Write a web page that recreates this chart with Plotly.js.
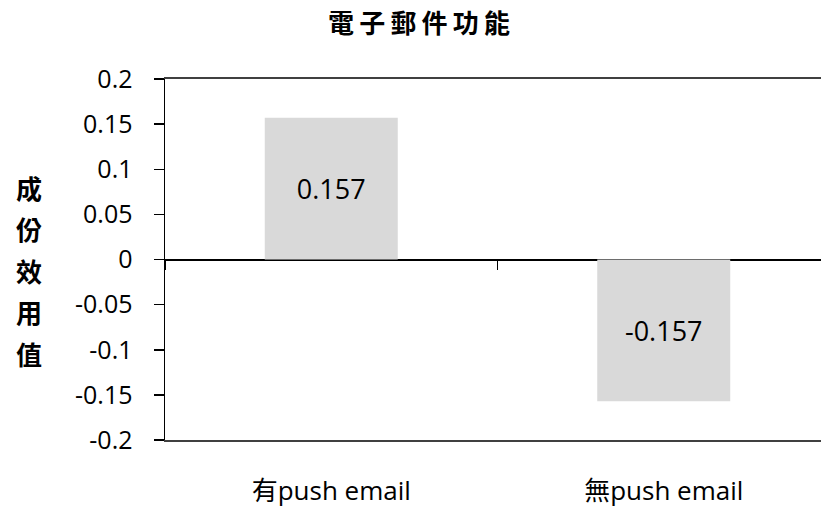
<!DOCTYPE html>
<html>
<head>
<meta charset="utf-8">
<script src="https://cdn.plot.ly/plotly-3.0.1.min.js"></script>
<style>
  html, body { margin: 0; padding: 0; overflow: hidden; background: #fff; }
  #chart { width: 835px; height: 513px; }
</style>
</head>
<body>
<div id="chart"></div>
<script>
// Part-worth utilities for the e-mail feature
const categories = ['有push email', '無push email'];
const utilities = [0.157, -0.157];
const yTickValues = [0.2, 0.15, 0.1, 0.05, 0, -0.05, -0.1, -0.15, -0.2];
const yTickLabels = ['0.2', '0.15', '0.1', '0.05', '0', '-0.05', '-0.1', '-0.15', '-0.2'];
const chartTitle = '電子郵件功能';
const yTitleChars = ['成', '份', '效', '用', '值'];

const latin = '"Open Sans", "Noto Sans CJK TC", sans-serif';
const cjk = '"Noto Sans CJK TC", "Noto Sans CJK SC", sans-serif';

const bars = {
  type: 'bar',
  x: categories,
  y: utilities,
  width: 0.4,
  marker: { color: '#d9d9d9', line: { width: 0 } },
  text: utilities.map(v => v.toFixed(3)),
  textposition: 'inside',
  insidetextanchor: 'middle',
  textangle: 0,
  textfont: { family: latin, size: 27, color: '#000' },
  hoverinfo: 'skip',
  showlegend: false
};

// Invisible trace that carries the category boundary ticks on the zero line
const boundaryAxis = {
  type: 'bar',
  x: categories,
  y: [0, 0],
  xaxis: 'x2',
  yaxis: 'y',
  marker: { color: 'rgba(0,0,0,0)' },
  hoverinfo: 'skip',
  showlegend: false
};

// Stacked vertical y-axis title, one character per line
const plotTop = 79, plotBottom = 440;
const titleAnnotations = yTitleChars.map((ch, i) => {
  const py = 187 + i * 41.5;
  return {
    text: ch,
    xref: 'paper', yref: 'paper',
    x: (29 - 165) / 665, y: (plotBottom - py) / (plotBottom - plotTop),
    xanchor: 'center', yanchor: 'middle',
    showarrow: false,
    font: { family: cjk, size: 26, color: '#000', weight: 'bold' }
  };
});

const layout = {
  width: 835,
  height: 513,
  margin: { l: 165, r: 5, t: 79, b: 73 },
  paper_bgcolor: '#fff',
  plot_bgcolor: '#fff',
  title: {
    text: '<b>' + chartTitle.split('').join('\u2009') + '</b>',
    font: { family: cjk, size: 26, color: '#000' },
    x: 419 / 835, xref: 'container', xanchor: 'center',
    y: 1 - 24 / 513, yref: 'container', yanchor: 'middle'
  },
  bargap: 0.6,
  xaxis: {
    type: 'category',
    showline: true,
    mirror: true,
    linecolor: '#404040',
    linewidth: 2,
    ticks: '',
    showgrid: false,
    zeroline: false,
    tickfont: { family: latin, size: 26, color: '#000' },
    ticklabelstandoff: 27,
    fixedrange: true
  },
  xaxis2: {
    type: 'category',
    overlaying: 'x',
    anchor: 'free',
    position: 0.5,
    side: 'bottom',
    showline: false,
    ticks: 'outside',
    tickson: 'boundaries',
    ticklen: 9,
    tickwidth: 1.5,
    tickcolor: '#000',
    showticklabels: false,
    showgrid: false,
    zeroline: false,
    matches: 'x'
  },
  yaxis: {
    range: [-0.2, 0.2],
    tickvals: yTickValues,
    ticktext: yTickLabels,
    showline: true,
    linecolor: '#000',
    linewidth: 1.5,
    ticks: 'outside',
    ticklen: 10,
    tickwidth: 1.5,
    tickcolor: '#000',
    showgrid: false,
    zeroline: true,
    zerolinecolor: '#000',
    zerolinewidth: 2,
    tickfont: { family: latin, size: 25, color: '#000' },
    ticklabelstandoff: 16,
    fixedrange: true
  },
  annotations: titleAnnotations
};

Plotly.newPlot('chart', [bars, boundaryAxis], layout, { displayModeBar: false, staticPlot: true });
</script>
</body>
</html>
